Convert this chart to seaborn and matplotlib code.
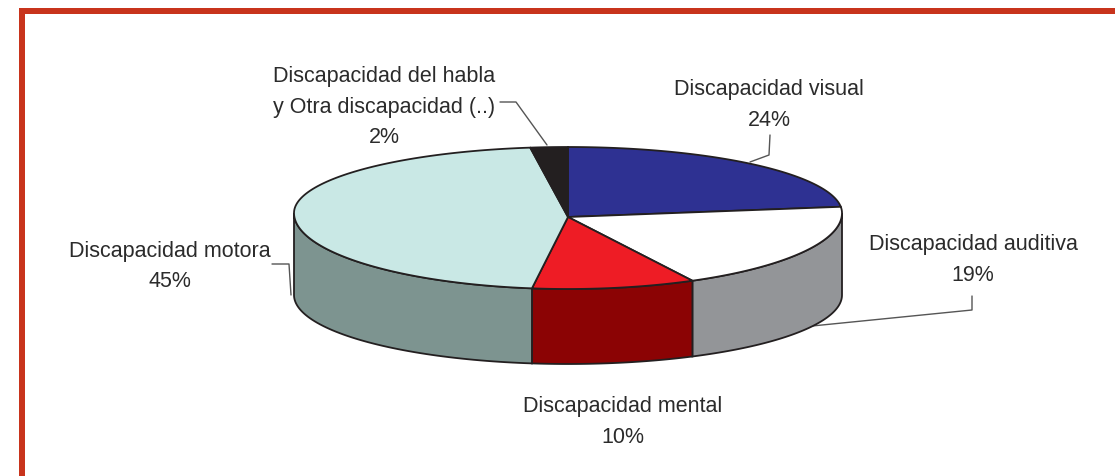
import matplotlib
matplotlib.use('Agg')
import matplotlib.pyplot as plt
import numpy as np
import seaborn as sns

# values, labels keep the printed percentages
categories = ['Discapacidad visual', 'Discapacidad auditiva', 'Discapacidad mental',
              'Discapacidad motora', 'Discapacidad del habla\ny Otra discapacidad (..)']
values = [23.5, 19.0, 9.6, 45.7, 2.2]
percent_labels = ['24%', '19%', '10%', '45%', '2%']

top_colors = ['#2e3192', '#ffffff', '#ee1c25', '#c9e8e5', '#231f20']
wall_colors = ['#1d2060', '#939598', '#8b0304', '#7d9490', '#231f20']

sns.set_theme(style='white')
plt.rcParams['font.family'] = ['Liberation Sans', 'DejaVu Sans']

CX, CY = 568, 213
A = 274
B_UP, B_DOWN = 66, 76
APEX_Y = 217
BOTTOM_Y, BOTTOM_B = 295, 69
EDGE = '#231f20'


def rim(t):
    # top edge of the disc, a bit squashed at the back for the perspective
    t = np.radians(t)
    s = np.sin(t)
    return CX + A * np.cos(t), CY - np.where(s > 0, B_UP, B_DOWN) * s


def floor(t):
    t = np.radians(t)
    return CX + A * np.cos(t), BOTTOM_Y - BOTTOM_B * np.sin(t)


fig = plt.figure(figsize=(11.15, 4.76), dpi=100)
ax = fig.add_axes([0, 0, 1, 1])
ax.set_xlim(0, 1115)
ax.set_ylim(476, 0)
ax.axis('off')

# red frame, only top and left are inside the picture
ax.fill_between([19, 1115], 8, 13.5, color='#c8341c', lw=0, zorder=1)
ax.fill_betweenx([8, 476], 19, 24.5, color='#c8341c', lw=0, zorder=1)

# slices run clockwise from the top of the disc
ends = 90 - np.cumsum(values) * 3.6
starts = np.r_[90, ends[:-1]]

for start, end, wall in zip(starts, ends, wall_colors):
    lo, hi = max(end, -180), min(start, 0)
    if lo >= hi:
        continue
    t = np.linspace(hi, lo, 60)
    xt, yt = rim(t)
    xb, yb = floor(t[::-1])
    ax.fill(np.r_[xt, xb], np.r_[yt, yb], facecolor=wall, edgecolor=EDGE, lw=1.3, zorder=2)

for start, end, top in zip(starts, ends, top_colors):
    t = np.linspace(start, end, 120)
    xt, yt = rim(t)
    ax.fill(np.r_[CX, xt], np.r_[APEX_Y, yt], facecolor=top, edgecolor=EDGE, lw=1.3, zorder=3)

# leader lines
leader_color = '#555555'
ax.plot([770, 769, 750], [135, 155, 162], color=leader_color, lw=1, zorder=4)
ax.plot([972, 972, 812], [296, 310, 326], color=leader_color, lw=1, zorder=1.5)
ax.plot([272, 289, 291], [264, 264, 295], color=leader_color, lw=1, zorder=1.5)
ax.plot([500, 516, 547], [102, 102, 145], color=leader_color, lw=1, zorder=4)

label_pos = [(769, 105), (973, 260), (623, 422), (170, 266.5), (384, 107)]
for name, pct, (x, y) in zip(categories, percent_labels, label_pos):
    ax.text(x, y, name + '\n' + pct, ha='center', va='center', fontsize=15.5,
            color='#2b2b2b', linespacing=1.6, zorder=5)

plt.savefig('out.png', dpi=100)
